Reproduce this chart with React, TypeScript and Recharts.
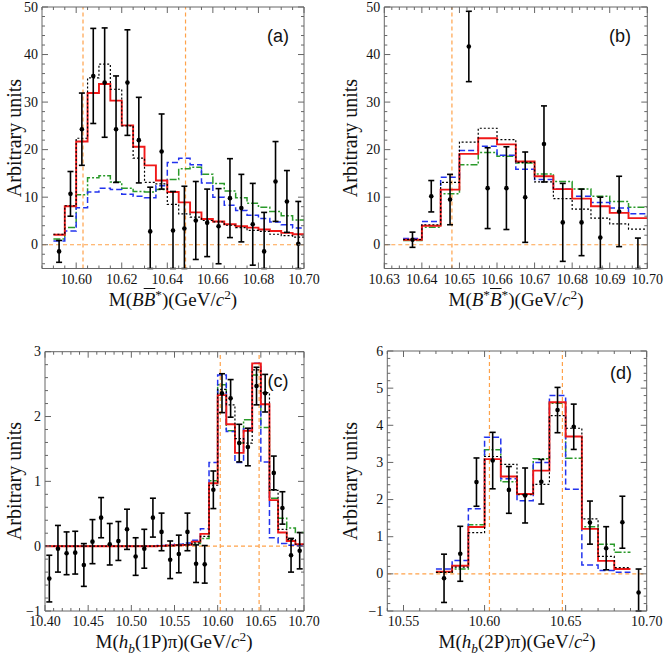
import React from "react";
import {
  ComposedChart,
  Line,
  Scatter,
  ErrorBar,
  XAxis,
  YAxis,
  ReferenceLine,
} from "recharts";

// colours
const FRAME = "#666";
const ORANGE = "#ffa24a";
const RED = "#f01818";
const BLUE = "#2233ee";
const GREEN = "#2a9a2a";
const SERIF = "'Liberation Serif', 'Times New Roman', serif";
const SANS = "'Liberation Sans', Arial, sans-serif";

// ---------- panel (a): M(B B*) ----------
const aEdges = [10.590, 10.595, 10.600, 10.605, 10.610, 10.615, 10.620, 10.625, 10.630, 10.635, 10.640, 10.645, 10.650, 10.655, 10.660, 10.665, 10.670, 10.675, 10.680, 10.685, 10.690, 10.695, 10.700];
const aRed = [2.1, 8.1, 21.7, 31.9, 33.8, 30.3, 25.1, 20.6, 16.7, 13.5, 11.1, 8.9, 6.8, 5.4, 4.9, 4.3, 3.9, 3.6, 3.2, 2.9, 2.5, 2.2];
const aBlue = [0.8, 2.9, 7.8, 11.1, 11.9, 11.6, 10.6, 10.2, 9.9, 12.4, 17.3, 18.2, 16.8, 13.0, 10.0, 8.3, 7.2, 6.2, 5.5, 4.8, 4.2, 3.5];
const aGreen = [1.2, 3.6, 10.5, 14.1, 14.5, 13.2, 11.9, 11.2, 11.1, 11.6, 13.7, 16.0, 16.3, 14.8, 12.9, 11.3, 9.9, 8.7, 7.9, 7.0, 6.1, 5.2];
const aBlack = [2.2, 8.2, 22.4, 35.1, 38.0, 32.7, 25.0, 18.2, 13.1, 12.8, 8.5, 6.5, 5.8, 5.1, 4.8, 4.1, 3.6, 3.0, 2.8, 2.2, 1.9, 1.6];
const aMass = [10.5925, 10.5975, 10.6025, 10.6075, 10.6125, 10.6175, 10.6225, 10.6275, 10.6325, 10.6375, 10.6425, 10.6475, 10.6525, 10.6575, 10.6625, 10.6675, 10.6725, 10.6775, 10.6825, 10.6875, 10.6925, 10.6975];
const aData = [-1.4, 10.7, 24.3, 35.5, 34.1, 24.3, 34.1, 22.0, 2.8, 19.6, 3.0, 3.4, 5.1, 4.6, 3.9, 9.8, 7.7, 4.3, -1.4, 13.3, 9.1, 0.2];
const aErr = [2.3, 4.7, 7.6, 10.0, 11.5, 11.2, 11.1, 9.0, 9.3, 7.9, 8.2, 8.9, 8.2, 7.1, 7.9, 8.3, 7.1, 8.6, 8.2, 8.4, 6.5, 8.9];

// ---------- panel (b): M(B* B*) ----------
const bEdges = [10.635, 10.640, 10.645, 10.650, 10.655, 10.660, 10.665, 10.670, 10.675, 10.680, 10.685, 10.690, 10.695, 10.700];
const bRed = [1.05, 4.0, 11.6, 19.1, 22.4, 21.1, 17.5, 14.4, 11.7, 9.7, 8.1, 6.7, 5.6];
const bBlue = [1.3, 4.9, 14.2, 19.8, 20.7, 18.8, 15.9, 13.7, 11.7, 10.2, 8.9, 7.7, 6.5];
const bGreen = [0.9, 3.7, 10.7, 16.8, 19.4, 18.6, 17.2, 14.9, 13.3, 11.7, 10.2, 9.1, 7.9];
const bBlack = [1.1, 4.2, 13.1, 21.6, 24.5, 22.1, 17.3, 13.2, 9.7, 7.5, 5.6, 4.4, 3.3];
const bMass = [10.6375, 10.6425, 10.6475, 10.6525, 10.6575, 10.6625, 10.6675, 10.6725, 10.6775, 10.6825, 10.6875, 10.6925, 10.6975];
const bData = [1.05, 10.2, 9.5, 41.7, 11.9, 11.9, 10.0, 21.2, 4.7, 4.7, 1.5, 7.0, -6.6];
const bErr = [1.6, 3.3, 5.3, 7.4, 8.5, 8.7, 9.5, 8.0, 8.2, 7.0, 8.5, 7.4, 8.0];

// ---------- panel (c): M(hb(1P) pi) ----------
const cEdges = [10.40, 10.41, 10.42, 10.43, 10.44, 10.45, 10.46, 10.47, 10.48, 10.49, 10.50, 10.51, 10.52, 10.53, 10.54, 10.55, 10.56, 10.57, 10.58, 10.59, 10.60, 10.61, 10.62, 10.63, 10.64, 10.65, 10.66, 10.67, 10.68, 10.69, 10.70];
const cRed = [0, 0, 0, 0, 0, 0, 0, 0, 0, 0, 0, 0, 0, 0.005, 0.01, 0.015, 0.02, 0.07, 0.19, 0.97, 2.33, 1.88, 1.44, 1.78, 2.82, 2.19, 0.71, 0.21, 0.08, 0.03];
const cBlue = [0, 0, 0, 0, 0, 0, 0, 0, 0, 0, 0, 0, 0, 0.01, 0.02, 0.03, 0.05, 0.09, 0.27, 1.29, 2.64, 1.77, 1.29, 1.81, 2.82, 1.30, 0.13, 0.04, 0.015, 0.005];
const cGreen = [0, 0, 0, 0, 0, 0, 0, 0, 0, 0, 0, 0, 0, 0.005, 0.01, 0.02, 0.03, 0.04, 0.12, 1.01, 2.49, 1.78, 1.59, 1.95, 2.64, 1.83, 0.74, 0.43, 0.28, 0.21];
const cBlack = [0, 0, 0, 0, 0, 0, 0, 0, 0, 0, 0, 0, 0, 0.005, 0.01, 0.015, 0.02, 0.05, 0.15, 0.94, 2.42, 2.18, 1.66, 1.59, 2.72, 2.37, 0.86, 0.26, 0.10, 0.03];
const cMass = [10.405, 10.415, 10.425, 10.435, 10.445, 10.455, 10.465, 10.475, 10.485, 10.495, 10.505, 10.515, 10.525, 10.535, 10.545, 10.555, 10.565, 10.575, 10.585, 10.595, 10.605, 10.615, 10.625, 10.635, 10.645, 10.655, 10.665, 10.675, 10.685, 10.695];
const cData = [-0.50, -0.04, -0.11, -0.10, -0.29, 0.07, 0.44, 0.03, 0.08, 0.26, -0.16, -0.04, 0.44, 0.22, -0.21, -0.12, 0.22, -0.27, -0.28, 0.87, 2.36, 2.28, 1.59, 1.53, 2.47, 2.36, 1.13, 0.59, -0.14, -0.07];
const cErr = [0.36, 0.36, 0.33, 0.33, 0.33, 0.34, 0.31, 0.32, 0.30, 0.31, 0.29, 0.30, 0.30, 0.29, 0.29, 0.29, 0.29, 0.29, 0.29, 0.29, 0.30, 0.29, 0.29, 0.29, 0.29, 0.29, 0.26, 0.25, 0.26, 0.28];

// ---------- panel (d): M(hb(2P) pi) ----------
const dEdges = [10.57, 10.58, 10.59, 10.60, 10.61, 10.62, 10.63, 10.64, 10.65, 10.66, 10.67, 10.68, 10.69];
const dRed = [0.06, 0.22, 1.26, 3.09, 2.62, 2.15, 2.78, 4.62, 3.70, 1.21, 0.35, 0.13];
const dBlue = [0.13, 0.36, 1.75, 3.68, 2.56, 1.97, 3.00, 4.80, 2.28, 0.24, 0.09, 0.04];
const dGreen = [0.04, 0.13, 1.32, 3.34, 2.48, 2.15, 3.10, 4.59, 3.11, 1.27, 0.80, 0.58];
const dBlack = [0.04, 0.18, 1.11, 3.16, 2.95, 2.13, 2.41, 4.26, 3.92, 1.48, 0.47, 0.17];
const dMass = [10.575, 10.585, 10.595, 10.605, 10.615, 10.625, 10.635, 10.645, 10.655, 10.665, 10.675, 10.685, 10.695];
const dData = [-0.12, 0.54, 2.47, 3.05, 2.26, 2.11, 2.48, 4.41, 3.96, 1.38, 0.69, 1.39, -0.50];
const dErr = [0.65, 0.74, 0.65, 0.76, 0.63, 0.74, 0.60, 0.61, 0.61, 0.58, 0.58, 0.70, 0.63];

// thresholds (orange dashed)
const thresholds = [10.603, 10.648];

// tick labels
const aXTicks = [10.60, 10.62, 10.64, 10.66, 10.68, 10.70];
const bXTicks = [10.63, 10.64, 10.65, 10.66, 10.67, 10.68, 10.69, 10.70];
const cXTicks = [10.40, 10.45, 10.50, 10.55, 10.60, 10.65, 10.70];
const dXTicks = [10.55, 10.60, 10.65, 10.70];
const abYTicks = [0, 10, 20, 30, 40, 50];
const cYTicks = [-1, 0, 1, 2, 3];
const dYTicks = [-1, 0, 1, 2, 3, 4, 5, 6];

// minor + major tick positions inside a domain
function steps(a: number, b: number, step: number) {
  const out: number[] = [];
  const first = Math.ceil(a / step - 1e-6);
  for (let i = first; i * step <= b + 1e-9; i++) out.push(+(i * step).toFixed(4));
  return out;
}

function hist(edges: number[], vals: number[]) {
  return edges.map((x, i) => ({ x, y: vals[Math.min(i, vals.length - 1)] }));
}

// error bars are cut at the lower frame edge, like the clipped bars of the original
function points(xs: number[], ys: number[], es: number[], yMin: number) {
  return xs.map((x, i) => ({
    x,
    y: ys[i],
    err: [Math.min(es[i], ys[i] - yMin), es[i]],
    inside: ys[i] >= yMin,
  }));
}

const isMajor = (v: number, majors: number[]) => majors.some((m) => Math.abs(m - v) < 1e-6);
const fmtY = (v: number) => (v < 0 ? "\u2212" + Math.abs(v) : String(v));

function makeTick(side: "bottom" | "top" | "left" | "right", majors: number[], fmt: (v: number) => string) {
  return (props: any) => {
    const { x, y, payload } = props;
    const v = payload.value as number;
    const major = isMajor(v, majors);
    const len = major ? 6 : 3;
    const label = { fontSize: 14, fontFamily: SERIF, fill: "#111" };
    if (side === "bottom")
      return (
        <g>
          <line x1={x} x2={x} y1={y} y2={y - len} stroke={FRAME} />
          {major && (
            <text x={x} y={y + 15} textAnchor="middle" {...label}>
              {fmt(v)}
            </text>
          )}
        </g>
      );
    if (side === "top")
      return <line x1={x} x2={x} y1={y} y2={y + len} stroke={FRAME} />;
    if (side === "left")
      return (
        <g>
          <line x1={x} x2={x + len} y1={y} y2={y} stroke={FRAME} />
          {major && (
            <text x={x - 4} y={y + 4.5} textAnchor="end" {...label}>
              {fmt(v)}
            </text>
          )}
        </g>
      );
    return <line x1={x} x2={x - len} y1={y} y2={y} stroke={FRAME} />;
  };
}

const Dot = (p: any) =>
  p.payload && p.payload.inside === false ? <g /> : <circle cx={p.cx} cy={p.cy} r={2.3} fill="#000" />;

interface PanelProps {
  left: number;
  top: number;
  // plot frame inside the 332x325 panel
  frame: { left: number; top: number; right: number; bottom: number };
  xDomain: [number, number];
  yDomain: [number, number];
  xMajor: number[];
  xMinorStep: number;
  yMajor: number[];
  yMinorStep: number;
  edges: number[];
  red: number[];
  blue: number[];
  green: number[];
  black: number[];
  mass: number[];
  data: number[];
  err: number[];
}

const W = 332;
const H = 325;
const LEFT_W = 30;
const RIGHT_W = 8;
const TOP_H = 4;
const BOTTOM_H = 24;

function Panel(p: PanelProps) {
  const xTicks = steps(p.xDomain[0], p.xDomain[1], p.xMinorStep);
  const yTicks = steps(p.yDomain[0], p.yDomain[1], p.yMinorStep);
  const fmtX = (v: number) => v.toFixed(2);
  const axisLine = { stroke: FRAME, strokeWidth: 1 };
  const common = { xAxisId: "b", yAxisId: "l" };
  const lineCommon = {
    ...common,
    dataKey: "y",
    type: "stepAfter" as const,
    dot: false,
    activeDot: false,
    isAnimationActive: false,
  };
  const margin = {
    left: p.frame.left - LEFT_W,
    right: W - p.frame.right - RIGHT_W,
    top: p.frame.top - TOP_H,
    bottom: H - p.frame.bottom - BOTTOM_H,
  };

  return (
    <div style={{ position: "absolute", left: p.left, top: p.top }}>
      <ComposedChart width={W} height={H} margin={margin}>
        <XAxis xAxisId="b" type="number" dataKey="x" domain={p.xDomain} ticks={xTicks} interval={0}
          tickSize={0} tickMargin={0} tickLine={false} axisLine={axisLine} height={BOTTOM_H} allowDataOverflow
          tick={makeTick("bottom", p.xMajor, fmtX)} />
        <XAxis xAxisId="t" orientation="top" type="number" dataKey="x" domain={p.xDomain} ticks={xTicks} interval={0}
          tickSize={0} tickMargin={0} tickLine={false} axisLine={axisLine} height={TOP_H} allowDataOverflow
          tick={makeTick("top", p.xMajor, fmtX)} />
        <YAxis yAxisId="l" type="number" domain={p.yDomain} ticks={yTicks} interval={0}
          tickSize={0} tickMargin={0} tickLine={false} axisLine={axisLine} width={LEFT_W} allowDataOverflow
          tick={makeTick("left", p.yMajor, fmtY)} />
        <YAxis yAxisId="r" orientation="right" type="number" domain={p.yDomain} ticks={yTicks} interval={0}
          tickSize={0} tickMargin={0} tickLine={false} axisLine={axisLine} width={RIGHT_W} allowDataOverflow
          tick={makeTick("right", p.yMajor, fmtY)} />

        <ReferenceLine {...common} y={0} stroke={ORANGE} strokeDasharray="4 3" strokeWidth={1.2} />
        {thresholds.map((t) => (
          <ReferenceLine key={t} {...common} x={t} stroke={ORANGE} strokeDasharray="4 3" strokeWidth={1.2} />
        ))}

        <Line {...lineCommon} data={hist(p.edges, p.green)} stroke={GREEN} strokeWidth={1.5} strokeDasharray="7 2 2 2" />
        <Line {...lineCommon} data={hist(p.edges, p.blue)} stroke={BLUE} strokeWidth={1.5} strokeDasharray="6 3" />
        <Line {...lineCommon} data={hist(p.edges, p.red)} stroke={RED} strokeWidth={1.9} />
        <Line {...lineCommon} data={hist(p.edges, p.black)} stroke="#000" strokeWidth={1.2} strokeDasharray="2 2" />

        <Scatter {...common} data={points(p.mass, p.data, p.err, p.yDomain[0])} dataKey="y" shape={Dot}
          isAnimationActive={false}>
          <ErrorBar dataKey="err" direction="y" width={3} stroke="#000" strokeWidth={1.6} isAnimationActive={false} />
        </Scatter>
      </ComposedChart>
    </div>
  );
}

const over: React.CSSProperties = { textDecoration: "overline" };
const sup: React.CSSProperties = { fontSize: "0.7em", verticalAlign: "super", lineHeight: 0 };
const sub: React.CSSProperties = { fontSize: "0.7em", verticalAlign: "sub", lineHeight: 0 };

function XTitle({ cx, cy, children }: { cx: number; cy: number; children: React.ReactNode }) {
  return (
    <div style={{ position: "absolute", left: cx - 150, top: cy - 9, width: 300, height: 18, lineHeight: "18px",
      textAlign: "center", fontFamily: SERIF, fontSize: 19, color: "#111", whiteSpace: "nowrap" }}>
      {children}
    </div>
  );
}

function YTitle({ cx, cy }: { cx: number; cy: number }) {
  return (
    <div style={{ position: "absolute", left: cx - 100, top: cy - 12, width: 200, height: 24, lineHeight: "24px",
      textAlign: "center", fontFamily: SERIF, fontSize: 20, color: "#111", transform: "rotate(-90deg)", whiteSpace: "nowrap" }}>
      Arbitrary units
    </div>
  );
}

function Tag({ cx, cy, text }: { cx: number; cy: number; text: string }) {
  return (
    <div style={{ position: "absolute", left: cx - 20, top: cy - 11, width: 40, height: 22, lineHeight: "22px",
      textAlign: "center", fontFamily: SANS, fontSize: 18, color: "#111" }}>
      {text}
    </div>
  );
}

const gev = (
  <>
    (GeV/<i>c</i>
    <span style={sup}>2</span>)
  </>
);

export default function App() {
  return (
    <div style={{ position: "absolute", left: 0, top: 0, width: 664, height: 655, background: "#fff", overflow: "hidden" }}>
      <Panel left={0} top={0} frame={{ left: 42, top: 7, right: 304, bottom: 268.5 }}
        xDomain={[10.585, 10.70]} yDomain={[-5, 50]} xMajor={aXTicks} xMinorStep={0.005} yMajor={abYTicks} yMinorStep={2}
        edges={aEdges} red={aRed} blue={aBlue} green={aGreen} black={aBlack} mass={aMass} data={aData} err={aErr} />
      <Panel left={332} top={0} frame={{ left: 52.3, top: 7, right: 315.3, bottom: 268.5 }}
        xDomain={[10.63, 10.70]} yDomain={[-5, 50]} xMajor={bXTicks} xMinorStep={0.002} yMajor={abYTicks} yMinorStep={2}
        edges={bEdges} red={bRed} blue={bBlue} green={bGreen} black={bBlack} mass={bMass} data={bData} err={bErr} />
      <Panel left={0} top={330} frame={{ left: 45, top: 21.7, right: 304, bottom: 281 }}
        xDomain={[10.40, 10.70]} yDomain={[-1, 3]} xMajor={cXTicks} xMinorStep={0.01} yMajor={cYTicks} yMinorStep={0.2}
        edges={cEdges} red={cRed} blue={cBlue} green={cGreen} black={cBlack} mass={cMass} data={cData} err={cErr} />
      <Panel left={332} top={330} frame={{ left: 55.3, top: 21, right: 314.7, bottom: 281 }}
        xDomain={[10.54, 10.70]} yDomain={[-1, 6]} xMajor={dXTicks} xMinorStep={0.01} yMajor={dYTicks} yMinorStep={0.2}
        edges={dEdges} red={dRed} blue={dBlue} green={dGreen} black={dBlack} mass={dMass} data={dData} err={dErr} />

      <YTitle cx={14} cy={138} />
      <YTitle cx={350} cy={138} />
      <YTitle cx={14} cy={481} />
      <YTitle cx={350} cy={481} />

      <XTitle cx={173} cy={300}>
        M(<i>B</i><i style={over}>B</i><span style={sup}>*</span>){gev}
      </XTitle>
      <XTitle cx={516} cy={300}>
        M(<i>B</i><span style={sup}>*</span><i style={over}>B</i><span style={sup}>*</span>){gev}
      </XTitle>
      <XTitle cx={174} cy={642}>
        M(<i>h</i><i style={sub}>b</i>(1P)π){gev}
      </XTitle>
      <XTitle cx={517} cy={642}>
        M(<i>h</i><i style={sub}>b</i>(2P)π){gev}
      </XTitle>

      <Tag cx={278} cy={36} text="(a)" />
      <Tag cx={620} cy={36} text="(b)" />
      <Tag cx={278} cy={381} text="(c)" />
      <Tag cx={621} cy={373} text="(d)" />
    </div>
  );
}
